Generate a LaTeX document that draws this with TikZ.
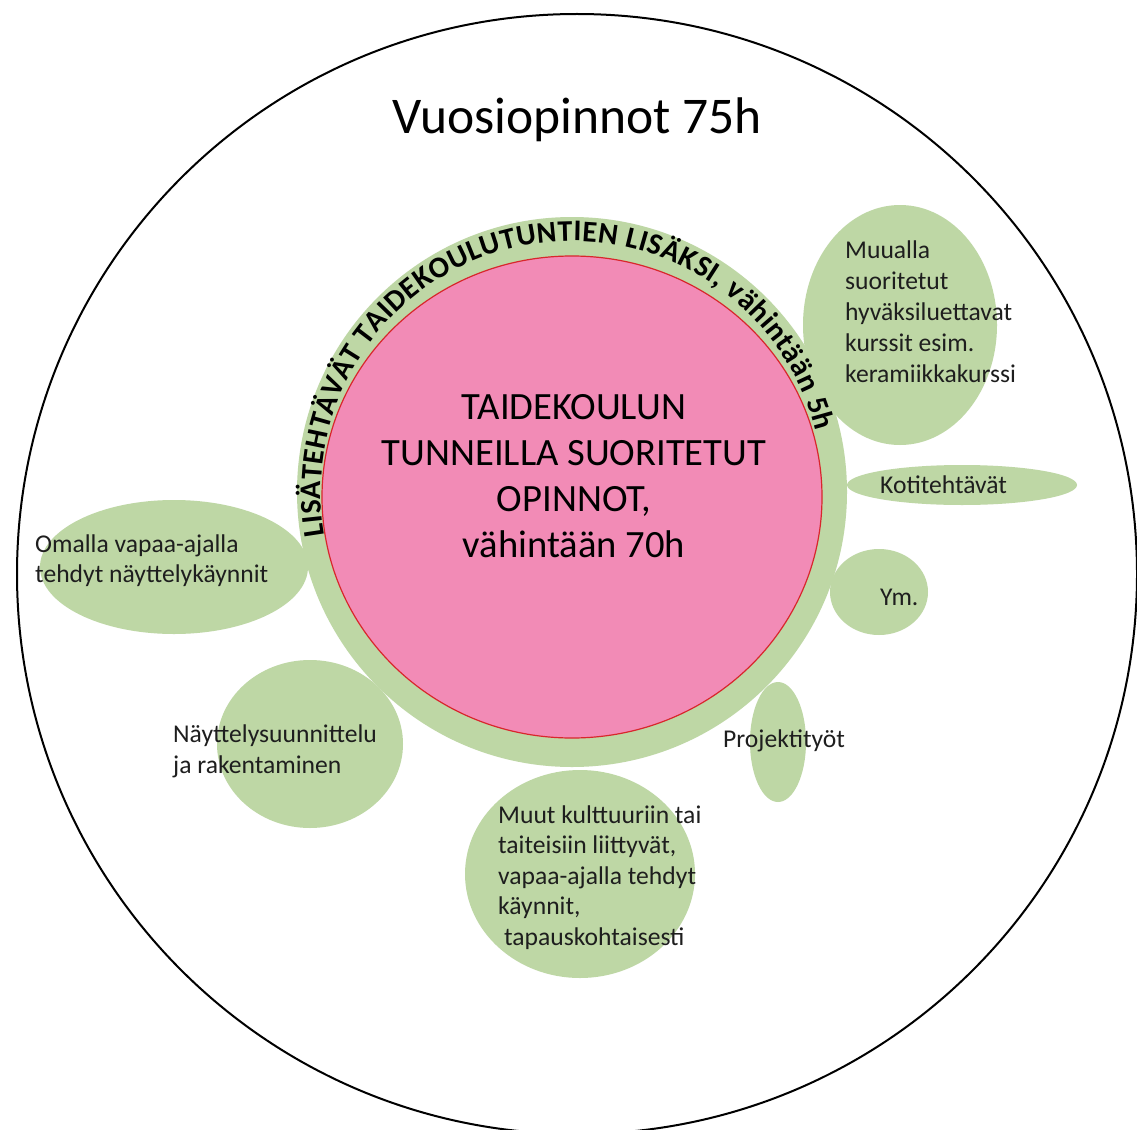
\documentclass[tikz,border=0pt]{standalone}
\usepackage{fontspec}
\setmainfont{Carlito}
\usetikzlibrary{decorations.text}
\definecolor{blobgreen}{HTML}{BED7A5}
\definecolor{pinkfill}{HTML}{F28BB6}
\definecolor{pinkedge}{HTML}{D9262C}
\definecolor{labeltext}{HTML}{1E1E1E}
\begin{document}
\begin{tikzpicture}[x=1pt,y=1pt,
  blob/.style={fill=blobgreen, draw=none},
  lbl/.style={inner sep=0pt, anchor=base west, text=labeltext, font=\fontsize{25.6}{31}\selectfont},
]
\useasboundingbox (0,0) rectangle (1137,-1129);
\fill[white] (0,0) rectangle (1137,-1129);
% outer circle
\draw[line width=2pt] (577,-574) circle[radius=560];
% green ring
\fill[blob] (572,-492) circle[radius=275];
% blobs
\fill[blob] (900,-325) ellipse[x radius=97, y radius=120];
\fill[blob] (962,-485) ellipse[x radius=115, y radius=20];
\fill[blob] (879,-592) ellipse[x radius=49, y radius=43];
\fill[blob] (778,-742) ellipse[x radius=28, y radius=60];
\fill[blob] (580,-874) ellipse[x radius=115, y radius=104];
\fill[blob] (310,-744) ellipse[x radius=93, y radius=84];
\fill[blob] (174,-567) ellipse[x radius=134, y radius=67];
% pink core
\filldraw[fill=pinkfill, draw=pinkedge, line width=1.2pt] (572,-497) ellipse[x radius=250, y radius=241];
% arc text
\path[decorate, decoration={text along path, text align=fit to path,
  text={|\bfseries\fontsize{30}{30}\selectfont|LISÄTEHTÄVÄT TAIDEKOULUTUNTIEN LISÄKSI{,} vähintään 5h}}]
  (572,-492) ++(190:251) arc[start angle=190, end angle=14, radius=251];
% title
\node[anchor=base, inner sep=0pt, font=\fontsize{51.5}{51.5}\selectfont] (title) at (577,-133) {Vuosiopinnot 75h};
% core text
\node[anchor=base, inner sep=0pt, font=\fontsize{38.6}{46}\selectfont] (core) at (574,-419)
  {\begin{tabular}[t]{@{}c@{}}TAIDEKOULUN\\TUNNEILLA SUORITETUT\\OPINNOT,\\vähintään 70h\end{tabular}};
% labels
\node[lbl] (muualla) at (845,-258)
  {\begin{tabular}[t]{@{}l@{}}Muualla\\suoritetut\\hyväksiluettavat\\kurssit esim.\\keramiikkakurssi\end{tabular}};
\node[lbl] (koti) at (880,-493) {Kotitehtävät};
\node[lbl] (ym) at (880,-605) {Ym.};
\node[lbl] (projekti) at (723,-747) {Projektityöt};
\node[lbl, font=\fontsize{25.6}{30.5}\selectfont] (muut) at (498,-823)
  {\begin{tabular}[t]{@{}l@{}}Muut kulttuuriin tai\\taiteisiin liittyvät,\\vapaa-ajalla tehdyt\\käynnit,\\\hspace{6pt}tapauskohtaisesti\end{tabular}};
\node[lbl] (nayttely) at (173,-742)
  {\begin{tabular}[t]{@{}l@{}}Näyttelysuunnittelu\\ja rakentaminen\end{tabular}};
\node[lbl, font=\fontsize{25.6}{30}\selectfont] (omalla) at (35,-552)
  {\begin{tabular}[t]{@{}l@{}}Omalla vapaa-ajalla\\tehdyt näyttelykäynnit\end{tabular}};
\end{tikzpicture}
\end{document}
